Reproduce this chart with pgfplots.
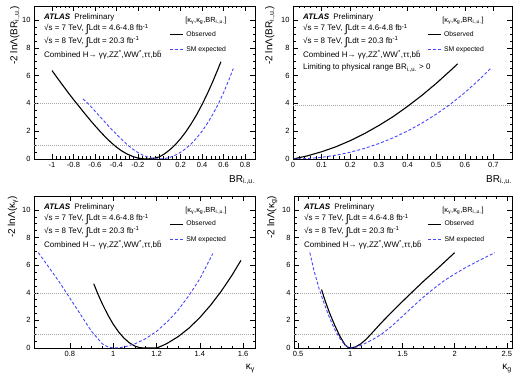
\documentclass[border=0pt]{standalone}
\usepackage{fontspec}
\setmainfont{Liberation Sans}
\usepackage{pgfplots}
\pgfplotsset{compat=1.18}
\definecolor{smblue}{RGB}{70,70,255}
\newcommand{\infofont}{\fontsize{8}{9}\selectfont}
\newcommand{\legfont}{\fontsize{6.8}{7}\selectfont}
\newcommand{\BRiu}{BR\textsubscript{i.,u.}}
\newcommand{\integ}{{\fontsize{11}{11}\selectfont\raisebox{-1.8pt}{∫}}}
\pgfplotsset{
 atlas/.style={
  scale only axis, ymin=0, ymax=11, ytick={0,2,4,6,8,10}, minor y tick num=3,
  tick align=inside, major tick length=5pt, minor tick length=2.5pt,
  every tick/.style={black, line width=0.4pt},
  axis line style={black, line width=0.5pt},
  tick label style={font=\fontsize{7.5}{8}\selectfont},
  /pgf/number format/assume math mode=true,
  label style={font=\fontsize{10}{11}\selectfont},
  xlabel style={at={(axis description cs:1,-0.137)}, anchor=east, inner sep=0pt},
  ylabel style={at={(axis description cs:#1,1)}, anchor=east, inner sep=0pt},
  legend style={draw=none, fill=none, font=\legfont, at={(axis description cs:0.611,0.765)}, anchor=west, inner sep=0pt, row sep=9pt, nodes={inner sep=0pt, text height=4.8pt, text depth=1.3pt}},
  legend cell align=left,
  legend image code/.code={\draw[##1] (0pt,0pt) -- (13pt,0pt); \path (16pt,0pt);},
 },
 smexp/.style={color=smblue, line width=0.9pt, dash pattern=on 3pt off 2pt, legend image post style={draw=smblue, line width=1pt}},
 obsv/.style={color=black, line width=1.1pt},
 glin/.style={color=gray!70, line width=0.4pt, dash pattern=on 0.8pt off 1.2pt, forget plot},
}
\newcommand{\info}[1]{%
 \node[anchor=west, inner sep=0pt, font=\infofont, xshift=10pt, yshift=-11.5pt] at (rel axis cs:0,1) {\textbf{\textit{ATLAS}}\hspace{4pt}Preliminary};
 \node[anchor=west, inner sep=0pt, font=\infofont, xshift=10pt, yshift=-23.5pt] at (rel axis cs:0,1) {√s = 7 TeV, \integ Ldt = 4.6-4.8 fb\textsuperscript{-1}};
 \node[anchor=west, inner sep=0pt, font=\infofont, xshift=10pt, yshift=-36pt] at (rel axis cs:0,1) {√s = 8 TeV, \integ Ldt = 20.3 fb\textsuperscript{-1}};
 \node[anchor=west, inner sep=0pt, font=\infofont, xshift=10pt, yshift=-49pt] at (rel axis cs:0,1) {Combined H→ γγ,ZZ\textsuperscript{*},WW\textsuperscript{*},ττ,b\=b};
 #1
 \node[anchor=center, inner sep=0pt, font=\fontsize{7.4}{8}\selectfont, xshift=-49pt, yshift=-14.5pt] at (rel axis cs:1,1) {[κ\textsubscript{γ},κ\textsubscript{g},\BRiu]};
}
\begin{document}
\begin{tikzpicture}
\useasboundingbox (0,0) rectangle (513pt,372pt);
% ---------------- top left
\begin{axis}[atlas=-0.086, at={(34pt,213pt)}, anchor=south west, width=221pt, height=153pt,
  xmin=-1.168, xmax=0.893, xtick={-1,-0.8,-0.6,-0.4,-0.2,0,0.2,0.4,0.6,0.8}, minor x tick num=4,
  xlabel={\BRiu}, ylabel={-2 lnΛ(\BRiu)}]
\addplot[glin] coordinates {(-1.168,1) (0.893,1)};
\addplot[glin] coordinates {(-1.168,4) (0.893,4)};
\addplot[obsv] coordinates {(-1.00,6.36) (-0.95,5.82) (-0.90,5.30) (-0.85,4.78) (-0.80,4.28) (-0.75,3.80) (-0.70,3.32) (-0.65,2.85) (-0.60,2.40) (-0.55,1.97) (-0.50,1.56) (-0.45,1.19) (-0.40,0.86) (-0.35,0.58) (-0.30,0.36) (-0.25,0.19) (-0.20,0.07) (-0.16,0.02) (-0.12,0) (-0.08,0.02) (-0.04,0.07) (0.00,0.15) (0.05,0.375) (0.10,0.67) (0.15,1.03) (0.20,1.47) (0.25,1.98) (0.30,2.56) (0.35,3.20) (0.40,3.93) (0.45,4.72) (0.50,5.58) (0.55,6.51) (0.575,6.99)};
\addlegendentry{Observed}
\addplot[smexp] coordinates {(-0.71,4.32) (-0.65,3.88) (-0.60,3.45) (-0.55,3.02) (-0.50,2.60) (-0.45,2.18) (-0.40,1.78) (-0.35,1.40) (-0.30,1.04) (-0.25,0.73) (-0.20,0.47) (-0.15,0.27) (-0.10,0.12) (-0.05,0.03) (0,0) (0.05,0.03) (0.10,0.12) (0.15,0.272) (0.20,0.486) (0.25,0.764) (0.30,1.108) (0.35,1.523) (0.40,2.01) (0.45,2.574) (0.50,3.22) (0.55,3.94) (0.60,4.77) (0.65,5.695) (0.69,6.50)};
\addlegendentry{SM expected}
\info{}
\end{axis}
% ---------------- top right
\begin{axis}[atlas=-0.105, at={(293pt,213pt)}, anchor=south west, width=219pt, height=153pt,
  xmin=0, xmax=0.765, xtick={0,0.1,0.2,0.3,0.4,0.5,0.6,0.7}, minor x tick num=4,
  xlabel={\BRiu}, ylabel={-2 lnΛ(\BRiu)}]
\addplot[glin] coordinates {(0,3.84) (0.765,3.84)};
\addplot[obsv] coordinates {(0,0) (0.05,0.225) (0.10,0.52) (0.15,0.88) (0.20,1.32) (0.25,1.83) (0.30,2.41) (0.35,3.05) (0.40,3.78) (0.45,4.57) (0.50,5.43) (0.55,6.36) (0.575,6.84)};
\addlegendentry{Observed}
\addplot[smexp] coordinates {(0,0) (0.05,0.03) (0.10,0.12) (0.15,0.272) (0.20,0.486) (0.25,0.764) (0.30,1.108) (0.35,1.523) (0.40,2.01) (0.45,2.574) (0.50,3.22) (0.55,3.94) (0.60,4.77) (0.65,5.695) (0.69,6.50)};
\addlegendentry{SM expected}
\info{\node[anchor=west, inner sep=0pt, font=\infofont, xshift=10pt, yshift=-62pt] at (rel axis cs:0,1) {Limiting to physical range \BRiu{} > 0};}
\end{axis}
% ---------------- bottom left
\begin{axis}[atlas=-0.095, at={(34pt,24pt)}, anchor=south west, width=221pt, height=152pt,
  xmin=0.634, xmax=1.655, xtick={0.8,1,1.2,1.4,1.6}, minor x tick num=3,
  xlabel={κ\textsubscript{γ}}, ylabel={-2 lnΛ(κ\textsubscript{γ})}]
\addplot[glin] coordinates {(0.634,1) (1.655,1)};
\addplot[glin] coordinates {(0.634,4) (1.655,4)};
\addplot[obsv] coordinates {(0.91,4.65) (0.93,3.88) (0.95,3.18) (0.975,2.40) (1.0,1.72) (1.025,1.16) (1.05,0.71) (1.075,0.37) (1.1,0.14) (1.12,0.035) (1.14,0) (1.2,0) (1.225,0.154) (1.25,0.342) (1.3,0.823) (1.35,1.44) (1.4,2.2) (1.45,3.1) (1.5,4.13) (1.55,5.3) (1.59,6.34)};
\addlegendentry{Observed}
\addplot[smexp] coordinates {(0.654,6.9) (0.7,5.9) (0.75,4.8) (0.8,3.6) (0.85,2.4) (0.9,1.2) (0.95,0.3) (0.975,0.08) (1.0,0) (1.025,0.02) (1.05,0.07) (1.1,0.3) (1.15,0.68) (1.2,1.2) (1.25,1.9) (1.3,2.75) (1.35,3.8) (1.4,5.0) (1.46,6.83)};
\addlegendentry{SM expected}
\info{}
\end{axis}
% ---------------- bottom right
\begin{axis}[atlas=-0.1, at={(294pt,24pt)}, anchor=south west, width=218pt, height=152pt,
  xmin=0.46, xmax=2.55, xtick={0.5,1,1.5,2,2.5}, minor x tick num=4,
  xlabel={κ\textsubscript{g}}, ylabel={-2 lnΛ(κ\textsubscript{g})}]
\addplot[glin] coordinates {(0.46,1) (2.55,1)};
\addplot[glin] coordinates {(0.46,4) (2.55,4)};
\addplot[obsv] coordinates {(0.724,4.24) (0.75,3.6) (0.8,2.55) (0.85,1.65) (0.9,0.85) (0.95,0.22) (0.975,0.06) (1.0,0.0) (1.05,0.08) (1.1,0.3) (1.15,0.62) (1.2,1.02) (1.3,1.85) (1.4,2.62) (1.5,3.37) (1.6,4.1) (1.7,4.82) (1.8,5.5) (1.9,6.2) (2.0,6.9)};
\addlegendentry{Observed}
\addplot[smexp] coordinates {(0.612,6.9) (0.65,5.65) (0.7,4.3) (0.75,3.2) (0.8,2.2) (0.85,1.35) (0.9,0.68) (0.95,0.2) (1.0,0) (1.05,0.05) (1.1,0.18) (1.2,0.55) (1.3,1.0) (1.4,1.6) (1.5,2.3) (1.6,3.0) (1.7,3.68) (1.8,4.3) (1.9,4.87) (2.0,5.35) (2.1,5.8) (2.2,6.2) (2.3,6.58) (2.385,6.9)};
\addlegendentry{SM expected}
\info{}
\end{axis}
\end{tikzpicture}
\end{document}
